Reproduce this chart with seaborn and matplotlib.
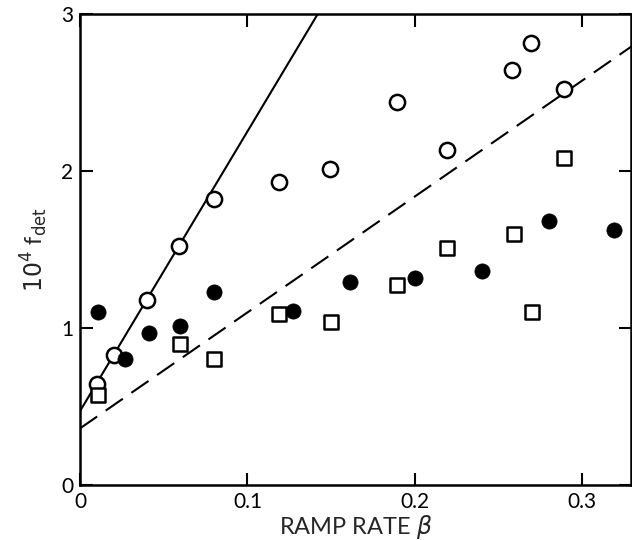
import matplotlib
matplotlib.use("Agg")
import matplotlib.pyplot as plt
import seaborn as sns
import numpy as np
import pandas as pd

# open circles
open_x = [0.010, 0.020, 0.040, 0.059, 0.080, 0.119, 0.149, 0.189, 0.219, 0.258, 0.269, 0.289]
open_y = [0.64, 0.83, 1.18, 1.52, 1.82, 1.93, 2.01, 2.44, 2.13, 2.64, 2.81, 2.52]

# filled circles
filled_x = [0.011, 0.027, 0.041, 0.060, 0.080, 0.127, 0.161, 0.200, 0.240, 0.280, 0.319]
filled_y = [1.10, 0.80, 0.97, 1.01, 1.23, 1.11, 1.29, 1.32, 1.36, 1.68, 1.62]

# open squares
square_x = [0.011, 0.060, 0.080, 0.119, 0.150, 0.189, 0.219, 0.259, 0.270, 0.289]
square_y = [0.57, 0.90, 0.80, 1.09, 1.04, 1.27, 1.51, 1.60, 1.10, 2.08]

# fitted lines: intercept, slope
solid_fit = (0.47, 17.8)
dashed_fit = (0.36, 7.38)

xticks = [0, 0.1, 0.2, 0.3]
xticklabels = ["0", "0.1", "0.2", "0.3"]
yticks = [0, 1, 2, 3]
yticklabels = ["0", "1", "2", "3"]

sns.set_style("ticks")
plt.rcParams["font.family"] = ["Lato", "DejaVu Sans"]

fig = plt.figure(figsize=(6.32, 5.4), dpi=100)
ax = fig.add_axes([0.1266, 0.1019, 0.8718, 0.8731])

line_x = np.array([0, 0.33])
ax.plot(line_x, solid_fit[0] + solid_fit[1] * line_x, color="black", lw=1.5)
ax.plot(line_x, dashed_fit[0] + dashed_fit[1] * line_x, color="black", lw=1.5,
        linestyle=(0, (10, 5)))

sns.scatterplot(x=open_x, y=open_y, ax=ax, marker="o", s=120,
                facecolor="white", edgecolor="black", linewidth=1.8, zorder=3)
sns.scatterplot(x=filled_x, y=filled_y, ax=ax, marker="o", s=120,
                color="black", edgecolor="black", linewidth=0.5, zorder=3)
sns.scatterplot(x=square_x, y=square_y, ax=ax, marker="s", s=110,
                facecolor="white", edgecolor="black", linewidth=1.8, zorder=3)

ax.set_xlim(0, 0.329)
ax.set_ylim(0, 3)
ax.set_xticks(xticks)
ax.set_xticklabels(xticklabels)
ax.set_yticks(yticks)
ax.set_yticklabels(yticklabels)
ax.tick_params(direction="in", length=9, width=1.5, labelsize=15, colors="black",
               top=True, right=True, pad=5)
for sp in ax.spines.values():
    sp.set_linewidth(1.8)
    sp.set_color("black")

ax.set_xlabel(r"RAMP RATE $\beta$", fontsize=17, labelpad=1)
ax.set_ylabel(r"$10^4$ f$_{\rm det}$", fontsize=17, labelpad=8)

fig.savefig("out.png", dpi=100)
